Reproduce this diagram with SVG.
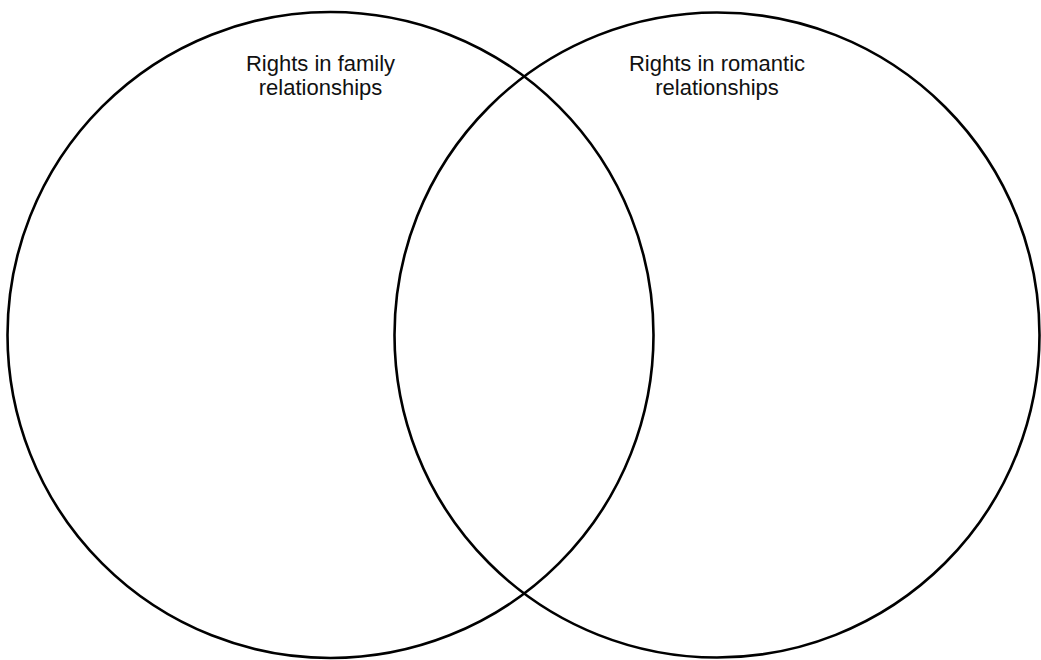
<svg xmlns="http://www.w3.org/2000/svg" width="1041" height="660" viewBox="0 0 1041 660">
  <style>
    .ring { fill: none; stroke: #000; stroke-width: 2.6; }
    .label { font-family: "Liberation Sans", Arial, sans-serif; font-size: 22px; fill: #111; text-anchor: middle; }
  </style>
  <rect width="1041" height="660" fill="#fff"/>
  <g id="family">
    <circle class="ring" cx="330.5" cy="335" r="323"/>
    <text class="label" x="320.5"><tspan x="320.5" y="71">Rights in family</tspan><tspan x="320.5" y="95">relationships</tspan></text>
  </g>
  <g id="romantic">
    <circle class="ring" cx="717" cy="335" r="322.5"/>
    <text class="label" x="717"><tspan x="717" y="71">Rights in romantic</tspan><tspan x="717" y="95">relationships</tspan></text>
  </g>
  <g id="connectors"/>
</svg>
